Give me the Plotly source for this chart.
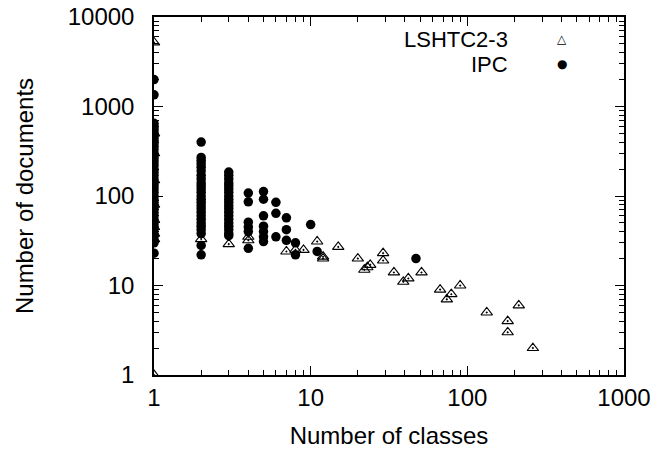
import plotly.graph_objects as go

# LSHTC2-3: number of classes per document group vs number of documents
lshtc_classes = [1, 1, 1, 1, 1, 1, 1, 1, 1, 1,
                 2, 3, 4, 4, 7, 8, 9, 11, 12, 12,
                 15, 20, 22, 23, 24, 29, 29, 34, 39, 42,
                 51, 67, 74, 79, 90, 133, 181, 181, 213, 262]
lshtc_docs = [5200, 500, 300, 150, 80, 54, 45, 38, 33, 1,
              33, 29, 35, 32, 24, 25, 25, 31, 21, 20,
              27, 20, 15, 16, 17, 23, 19, 14, 11, 12,
              14, 9, 7, 8, 10, 5, 4, 3, 6, 2]

# IPC
ipc_x1 = [2000, 1350, 650, 600, 560, 520, 480, 450, 420, 390, 360, 330, 300,
          280, 260, 240, 220, 200, 185, 170, 155, 140, 130, 120, 110, 100,
          92, 85, 78, 72, 66, 60, 55, 50, 46, 42, 38, 35, 32, 30, 23]
ipc_x2 = [400, 270, 250, 230, 210, 190, 170, 155, 140, 130, 120, 110, 100,
          92, 85, 78, 72, 66, 60, 55, 50, 46, 42, 38, 28, 22]
ipc_x3 = [185, 170, 155, 140, 130, 120, 110, 100, 92, 85, 78, 72, 66,
          60, 55, 50, 46, 42, 38, 36]
ipc_rest_classes = [4, 4, 4, 4, 4, 4, 5, 5, 5, 5, 5, 5, 5, 6, 6, 6,
                    7, 7, 7, 8, 8, 10, 11, 47]
ipc_rest_docs = [108, 86, 51, 45, 40, 26, 112, 92, 60, 46, 40, 35, 31, 85, 64, 35,
                 57, 42, 32, 30, 22, 48, 24, 20]

ipc_classes = [1] * len(ipc_x1) + [2] * len(ipc_x2) + [3] * len(ipc_x3) + ipc_rest_classes
ipc_docs = ipc_x1 + ipc_x2 + ipc_x3 + ipc_rest_docs

FONT = "Liberation Sans, Arial, Helvetica, sans-serif"
FS = 24

fig = go.Figure()
fig.add_trace(go.Scatter(
    x=lshtc_classes, y=lshtc_docs, mode="markers", name="LSHTC2-3",
    marker=dict(symbol="triangle-up-open-dot", size=10, color="black",
                line=dict(width=1.1, color="black")),
))
fig.add_trace(go.Scatter(
    x=ipc_classes, y=ipc_docs, mode="markers", name="IPC",
    marker=dict(symbol="circle", size=9.5, color="black", line=dict(width=0)),
))

axis_common = dict(
    type="log", showline=True, linecolor="black", linewidth=1.5,
    mirror="allticks", ticks="inside", ticklen=9, tickwidth=1.3,
    tickcolor="black", showgrid=False, zeroline=False, dtick=1,
    automargin=False, ticklabeloverflow="allow",
    tickformat="d", tickfont=dict(family=FONT, size=FS, color="black"),
    minor=dict(ticks="inside", ticklen=5, tickwidth=1.1, tickcolor="black",
               dtick="D1", showgrid=False),
)

fig.update_xaxes(axis_common, range=[0, 3], ticklabelstandoff=0,
                 title=dict(text="Number of classes", standoff=18,
                            font=dict(family=FONT, size=FS, color="black")))
fig.update_yaxes(axis_common, range=[0, 4], ticklabelstandoff=13,
                 title=dict(text="Number of documents", standoff=27,
                            font=dict(family=FONT, size=FS, color="black")))

# gnuplot style key: label right aligned, symbol on the right
for label, sym, yp in [("LSHTC2-3", "△", 0.9385), ("IPC", "●", 0.8687)]:
    fig.add_annotation(x=0.757, y=yp, xref="paper", yref="paper", text=label,
                       showarrow=False, xanchor="right", yanchor="middle",
                       font=dict(family=FONT, size=22, color="black"))
    fig.add_annotation(x=0.868, y=yp, xref="paper", yref="paper", text=sym,
                       showarrow=False, xanchor="center", yanchor="middle",
                       font=dict(family="DejaVu Sans", size=12, color="black"))

fig.update_layout(
    width=655, height=450, showlegend=False,
    margin=dict(l=154, r=31, t=17, b=75),
    plot_bgcolor="white", paper_bgcolor="white",
    font=dict(family=FONT, color="black"),
)

# drop the default 8px body margin so the figure fills the window
fig.write_html("out.html", config={"displayModeBar": False},
               post_script="document.body.style.margin = '0';")
